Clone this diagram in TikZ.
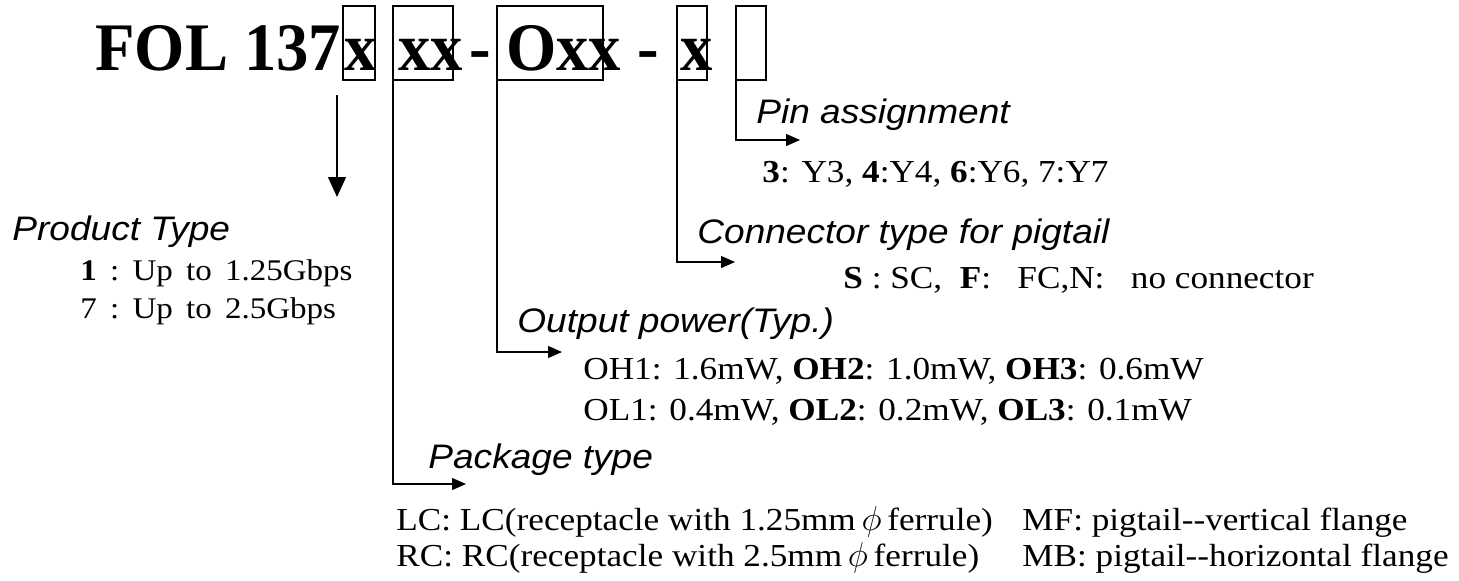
\documentclass[tikz,border=0pt]{standalone}
\usepackage{fontspec}
\setmainfont{Liberation Serif}[FakeStretch=1.10]
\newfontfamily\titlefont{Liberation Serif}[FakeStretch=0.95]
\newfontfamily\headfont{Liberation Sans}[FakeStretch=1.09]
\usetikzlibrary{arrows.meta}

\begin{document}
\begin{tikzpicture}[
    x=0.5pt, y=-0.5pt,
    slot/.style={draw, rectangle, inner sep=0pt, outer sep=0pt, line width=0.6pt, anchor=north west, minimum height=37pt},
    code/.style={inner sep=0pt, anchor=base west, font=\titlefont\fontsize{34}{40}\selectfont\bfseries},
    head/.style={inner sep=0pt, anchor=base west, font=\headfont\itshape\fontsize{17}{20}\selectfont},
    value/.style={inner sep=0pt, anchor=base west, align=left, font=\fontsize{16}{20}\selectfont},
    feed/.style={line width=0.6pt, -{Triangle[length=7pt,width=6pt]}}
]
  \useasboundingbox (0,0) rectangle (1459,580);

  % Part number
  \node (fol) [code] at (95,70) {FOL 137};
  \node (c1) [code] at (344,70) {x};
  \node (c2) [code] at (398,70) {xx};
  \node (d1) [code] at (469,70) {-};
  \node (c3) [code] at (506,70) {Oxx};
  \node (d2) [code] at (637,70) {-};
  \node (c4) [code] at (680,70) {x};

  % Boxes
  \node (b1) [slot, minimum width=16pt] at (343,6) {};
  \node (b2) [slot, minimum width=30pt] at (393,6) {};
  \node (b3) [slot, minimum width=53pt] at (497,6) {};
  \node (b4) [slot, minimum width=15pt] at (677,6) {};
  \node (b5) [slot, minimum width=15pt] at (736,6) {};

  % Labels (multi-line nodes sit on their last line)
  \node (ptype) [head] at (12,240) {Product Type};
  \node (ptypev) [value, font=\fontsize{15}{19}\selectfont] at (80,318) {\textbf{1}\ \,:\ \,Up\ \,to\ \,1.25Gbps\\7\ \,:\ \,Up\ \,to\ \,2.5Gbps};

  \node (pin) [head] at (756,123) {Pin assignment};
  \node (pinv) [value] at (762,182) {\textbf{3}: Y3, \textbf{4}:Y4, \textbf{6}:Y6, 7:Y7};

  \node (conn) [head] at (697,243) {Connector type for pigtail};
  \node (connv) [value] at (843,288) {\textbf{S} : SC,\ \ \textbf{F}:\ \ \ FC,N:\ \ \ no connector};

  \node (opow) [head] at (517,332) {Output power(Typ.)};
  \node (opowv) [value, font=\fontsize{16}{20.5}\selectfont] at (583,420) {OH1: 1.6mW, \textbf{OH2}: 1.0mW, \textbf{OH3}: 0.6mW\\OL1: 0.4mW, \textbf{OL2}: 0.2mW, \textbf{OL3}: 0.1mW};

  \node (pkg) [head] at (428,468) {Package type};
  \node (pkgl) [value, font=\fontsize{16}{18}\selectfont] at (396,566) {LC: LC(receptacle with 1.25mm$\,\phi\,$ferrule)\\RC: RC(receptacle with 2.5mm$\,\phi\,$ferrule)};
  \node (pkgr) [value, font=\fontsize{16}{18}\selectfont] at (1022,566) {MF: pigtail-{}-vertical flange\\MB: pigtail-{}-horizontal flange};

  % Arrow ends
  \coordinate (ptop) at (337,95);
  \coordinate (pbot) at (337,197);
  \coordinate (pinend) at (800,140);
  \coordinate (connend) at (735,262);
  \coordinate (opowend) at (562,352);
  \coordinate (pkgend) at (466,484);

  % Arrows
  \draw [line width=0.6pt, -{Triangle[length=10pt,width=9pt]}] (ptop) -- (pbot);
  \draw [feed] (b5.south west) |- (pinend);
  \draw [feed] (b4.south west) |- (connend);
  \draw [feed] (b3.south west) |- (opowend);
  \draw [feed] (b2.south west) |- (pkgend);
\end{tikzpicture}
\end{document}
